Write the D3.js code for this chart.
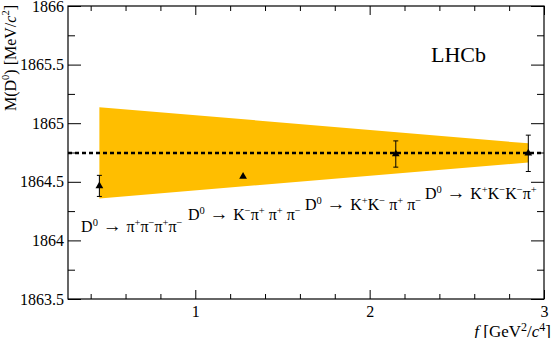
<!DOCTYPE html>
<html>
<head>
<meta charset="utf-8">
<script src="https://cdn.jsdelivr.net/npm/d3@7"></script>
<style>
  body { margin: 0; background: #fff; }
  svg, svg text { font-family: "Liberation Serif", "DejaVu Serif", serif; }
</style>
</head>
<body>
<svg id="drawing_region"></svg>
<script>
// measurements (f in GeV^2/c^4, mass in MeV/c^2)
const fValues = [0.45, 1.274, 2.15, 2.91];
const massValues = [1864.465, 1864.545, 1864.737, 1864.743];
const massErrors = [0.09, 0.008, 0.112, 0.155];

// average and its uncertainty band
const fitMass = 1864.745;
const bandF = [0.45, 2.91];
const bandUpper = [1865.137, 1864.828];
const bandLower = [1864.358, 1864.665];

// channel labels (anchor in data coordinates); "^" superscript, "~" italic, ">" arrow
const channels = [
    { f: 0.345, m: 1864.07,  parts: ["D", "^0", ">", "\u03c0", "^+", "\u03c0", "^\u2212", "\u03c0", "^+", "\u03c0", "^\u2212"] },
    { f: 0.958, m: 1864.174, parts: ["D", "^0", ">", "K", "^\u2212", "\u03c0", "^+", " \u03c0", "^+", " \u03c0", "^\u2212"] },
    { f: 1.629, m: 1864.26,  parts: ["D", "^0", ">", "K", "^+", "K", "^\u2212", " \u03c0", "^+", " \u03c0", "^\u2212"] },
    { f: 2.317, m: 1864.353, parts: ["D", "^0", ">", "K", "^+", "K", "^\u2212", "K", "^\u2212", "\u03c0", "^+"] }
];

const xDomain = [0.27, 3.0];
const yDomain = [1863.5, 1866];
const xMajor = [1, 2, 3];
const xMinor = [0.4, 0.6, 0.8, 1.2, 1.4, 1.6, 1.8, 2.2, 2.4, 2.6, 2.8];
const yMajor = [1863.5, 1864, 1864.5, 1865, 1865.5, 1866];
const yMinor = [1863.75, 1864.25, 1864.75, 1865.25, 1865.75];

const serif = '"Liberation Serif", "DejaVu Serif", serif';
const width = 554, height = 338;
const margin = {top: 6, right: 10, bottom: 39, left: 68};
const innerW = width - margin.left - margin.right;
const innerH = height - margin.top - margin.bottom;

const svg = d3.select('#drawing_region')
    .attr('width', width)
    .attr('height', height);

const chart = svg.append('g')
    .attr('transform', `translate(${margin.left}, ${margin.top})`);

const xscale = d3.scaleLinear().domain(xDomain).range([0, innerW]);
const yscale = d3.scaleLinear().domain(yDomain).range([innerH, 0]);

// writes pieces into a text element: "^x" raised and small, "~x" italic, ">" a wide arrow
function richText(t, parts, supSize, rise) {
    let raised = false;
    parts.forEach(p => {
        const sup = p.startsWith('^');
        const ital = p.startsWith('~');
        const arrow = p === '>';
        const s = t.append('tspan').text(arrow ? ' \u2192 ' : (sup || ital ? p.slice(1) : p));
        if (sup && !raised) { s.attr('dy', -rise); raised = true; }
        if (!sup && raised) { s.attr('dy', rise); raised = false; }
        if (sup) s.style('font-size', supSize + 'px');
        if (ital) s.style('font-style', 'italic');
        if (arrow) s.style('font-size', '19px');
    });
}

// band
const bandData = bandF.map((f, i) => ({f: f, lo: bandLower[i], hi: bandUpper[i]}));
const area = d3.area()
    .x(d => xscale(d.f))
    .y0(d => yscale(d.lo))
    .y1(d => yscale(d.hi));
chart.append('path')
    .attr('d', area(bandData))
    .attr('fill', '#ffbe00');

// average line
chart.append('line')
    .attr('x1', 0).attr('x2', innerW)
    .attr('y1', yscale(fitMass)).attr('y2', yscale(fitMass))
    .attr('stroke', '#000')
    .attr('stroke-width', 2.5)
    .attr('stroke-dasharray', '4,3');

// error bars and markers
const pts = fValues.map((f, i) => ({f: f, m: massValues[i], e: massErrors[i]}));
const eb = chart.selectAll('g.pt').data(pts).enter().append('g').attr('class', 'pt');
eb.append('line')
    .attr('x1', d => xscale(d.f)).attr('x2', d => xscale(d.f))
    .attr('y1', d => yscale(d.m - d.e)).attr('y2', d => yscale(d.m + d.e))
    .attr('stroke', '#000').attr('stroke-width', 1);
[-1, 1].forEach(s => {
    eb.filter(d => d.e > 0.02).append('line')
        .attr('x1', d => xscale(d.f) - 2.5).attr('x2', d => xscale(d.f) + 2.5)
        .attr('y1', d => yscale(d.m + s * d.e)).attr('y2', d => yscale(d.m + s * d.e))
        .attr('stroke', '#000').attr('stroke-width', 1);
});
eb.append('path')
    .attr('d', d3.symbol(d3.symbolTriangle, 26))
    .attr('transform', d => `translate(${xscale(d.f)}, ${yscale(d.m)})`)
    .attr('fill', '#000');

// channel labels
channels.forEach(c => {
    const t = chart.append('text')
        .attr('x', xscale(c.f))
        .attr('y', yscale(c.m))
        .style('font-family', serif)
        .style('font-size', '16px')
        .attr('fill', '#000');
    richText(t, c.parts, 10.5, 6);
});

// axes
function styleAxis(g) {
    g.attr('font-family', null).attr('font-size', null);
    g.select('.domain').remove();
    g.selectAll('line').attr('stroke', '#000');
    g.selectAll('text')
        .style('font-family', serif)
        .style('font-size', '16px')
        .attr('fill', '#000');
}

chart.append('g')
    .attr('transform', `translate(0, ${innerH})`)
    .call(d3.axisBottom(xscale).tickValues(xMajor).tickSize(-9).tickPadding(7).tickFormat(d3.format('d')))
    .call(styleAxis);
chart.append('g')
    .attr('transform', `translate(0, ${innerH})`)
    .call(d3.axisBottom(xscale).tickValues(xMinor).tickSize(-5).tickFormat(''))
    .call(styleAxis);
chart.append('g')
    .call(d3.axisTop(xscale).tickValues(xMajor).tickSize(-9).tickFormat(''))
    .call(styleAxis);
chart.append('g')
    .call(d3.axisTop(xscale).tickValues(xMinor).tickSize(-5).tickFormat(''))
    .call(styleAxis);

chart.append('g')
    .call(d3.axisLeft(yscale).tickValues(yMajor).tickSize(-13).tickPadding(4).tickFormat(d => d))
    .call(styleAxis);
chart.append('g')
    .call(d3.axisLeft(yscale).tickValues(yMinor).tickSize(-7).tickFormat(''))
    .call(styleAxis);
chart.append('g')
    .attr('transform', `translate(${innerW}, 0)`)
    .call(d3.axisRight(yscale).tickValues(yMajor).tickSize(-13).tickFormat(''))
    .call(styleAxis);
chart.append('g')
    .attr('transform', `translate(${innerW}, 0)`)
    .call(d3.axisRight(yscale).tickValues(yMinor).tickSize(-7).tickFormat(''))
    .call(styleAxis);

// frame
chart.append('rect')
    .attr('width', innerW).attr('height', innerH)
    .attr('fill', 'none').attr('stroke', '#000').attr('stroke-width', 1.2);

// LHCb tag
chart.append('text')
    .attr('x', 363).attr('y', 56)
    .style('font-family', serif)
    .style('font-size', '22px')
    .text('LHCb');

// axis titles
const ylabel = svg.append('text')
    .attr('transform', 'translate(16, 5) rotate(-90)')
    .attr('text-anchor', 'end')
    .style('font-family', serif)
    .style('font-size', '16px');
richText(ylabel, ['M(D', '^0', ') [MeV/', '~c', '^2', ']'], 10.5, 7);

const xlabel = svg.append('text')
    .attr('x', 551).attr('y', 337)
    .attr('text-anchor', 'end')
    .style('font-family', serif)
    .style('font-size', '17px');
richText(xlabel, ['~f', '  [GeV', '^2', '/', '~c', '^4', ']'], 12, 6);
</script>
</body>
</html>
